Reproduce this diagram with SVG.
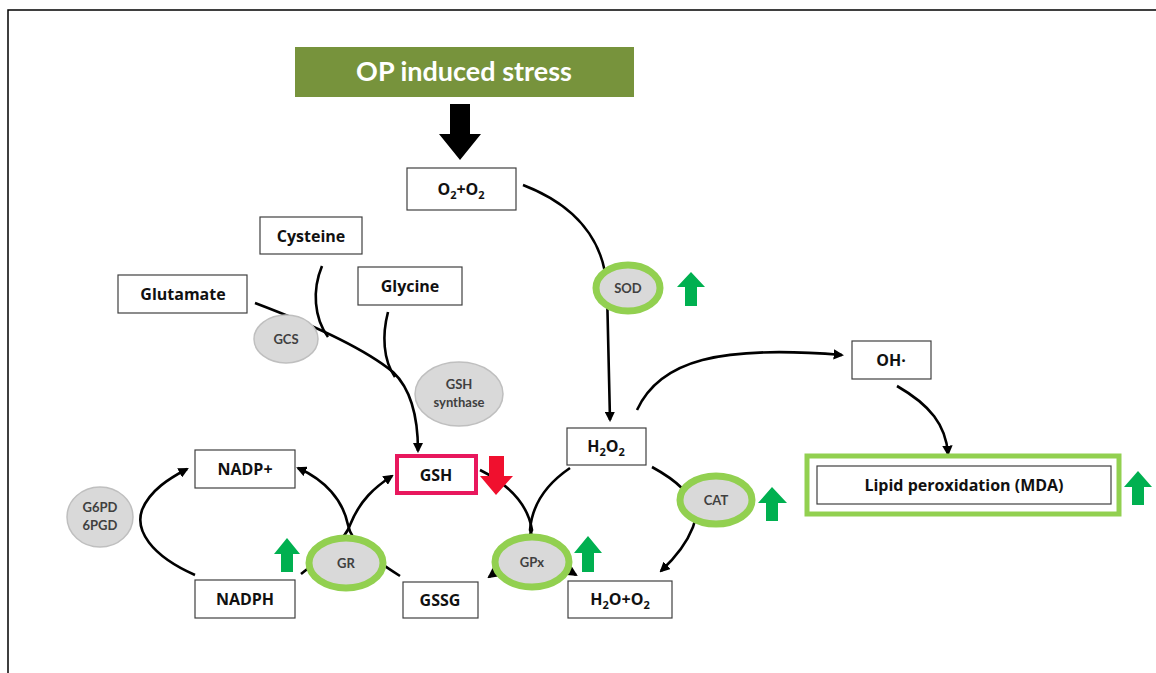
<svg xmlns="http://www.w3.org/2000/svg" width="1156" height="673" viewBox="0 0 1156 673">
<style>
.box{fill:#fff;stroke:#404040;stroke-width:1.2}
.lbl{font-family:"Open Sans",Lato,"Liberation Sans",sans-serif;font-weight:bold;font-size:16px;fill:#111;text-anchor:middle}
.sm{font-family:Lato,"Open Sans","Liberation Sans",sans-serif;font-weight:bold;font-size:13px;fill:#404040;text-anchor:middle}
.enz{fill:#D9D9D9;stroke:#BFBFBF;stroke-width:1.5}
.enzg{fill:#D9D9D9;stroke:#92D050;stroke-width:7}
.ln{fill:none;stroke:#000;stroke-width:2.6}
.up{fill:#00B050}
</style>
<defs>
<marker id="ah" viewBox="0 0 10 10" refX="8" refY="5" markerWidth="4" markerHeight="4" orient="auto" markerUnits="strokeWidth">
<path d="M0,0 L10,5 L0,10 Z" fill="#000"/>
</marker>
</defs>
<rect x="0" y="0" width="1156" height="673" fill="#fff"/>
<path d="M8,673 L8,10 L1156,10" fill="none" stroke="#000" stroke-width="1.5"/>

<g id="stress">
<rect x="295" y="47" width="339" height="50" fill="#77933C"/>
<text x="464" y="81" font-family="Lato,'Open Sans','Liberation Sans',sans-serif" font-weight="bold" font-size="27" fill="#fff" text-anchor="middle">OP induced stress</text>
</g>
<g id="bigarrow">
<path d="M450,104 L470,104 L470,134 L481,134 L460,160 L439,134 L450,134 Z" fill="#000"/>
</g>

<g id="connectors">
<path class="ln" d="M255,303 C300,320 360,345 393,372 C412,390 418,420 418,451" marker-end="url(#ah)"/>
<path class="ln" d="M322,266 C312,290 314,318 328,337"/>
<path class="ln" d="M388,312 C382,335 383,360 395,377"/>
<path class="ln" d="M523,185 C575,205 605,240 607,290 L610,420" marker-end="url(#ah)"/>
<path class="ln" d="M637,410 C660,360 720,345 842,355" marker-end="url(#ah)"/>
<path class="ln" d="M897,386 C930,405 946,425 948,454" marker-end="url(#ah)"/>
<path class="ln" d="M652,467 C685,485 702,505 693,527 C686,545 675,558 661,571" marker-end="url(#ah)"/>
<path class="ln" d="M570,468 C545,485 532,505 530,530 C535,550 555,562 576,575" marker-end="url(#ah)"/>
<path class="ln" d="M480,470 C510,485 528,505 532,530 C525,550 508,563 489,577" marker-end="url(#ah)"/>
<path class="ln" d="M195,575 C150,555 135,530 142,510 C150,490 170,478 187,469" marker-end="url(#ah)"/>
<path class="ln" d="M301,574 C325,555 345,540 350,525 C360,500 375,487 392,476" marker-end="url(#ah)"/>
<path class="ln" d="M400,576 C375,560 352,545 348,525 C343,500 325,480 298,468" marker-end="url(#ah)"/>
</g>

<g id="o2"><rect class="box" x="407" y="168" width="109" height="42"/><text class="lbl" x="461" y="195">O<tspan font-size="11" dy="4">2</tspan><tspan dy="-4">+O</tspan><tspan font-size="11" dy="4">2</tspan></text></g>
<g id="cysteine"><rect class="box" x="260" y="217" width="102" height="37"/><text class="lbl" x="311" y="242">Cysteine</text></g>
<g id="glutamate"><rect class="box" x="118" y="275" width="129" height="38"/><text class="lbl" x="183" y="300">Glutamate</text></g>
<g id="glycine"><rect class="box" x="358" y="267" width="104" height="38"/><text class="lbl" x="410" y="292">Glycine</text></g>
<g id="gcs"><ellipse class="enz" cx="286" cy="339" rx="32" ry="24"/><text class="sm" x="286" y="344">GCS</text></g>
<g id="gshsynthase"><ellipse class="enz" cx="459" cy="394" rx="44" ry="32"/><text class="sm" x="459" y="389">GSH</text><text class="sm" x="459" y="407">synthase</text></g>
<g id="sod"><ellipse class="enzg" cx="628" cy="288" rx="32" ry="23"/><text class="sm" x="628" y="293">SOD</text><path class="up" d="M691,272 L705,287 L697,287 L697,306 L685,306 L685,287 L677,287 Z"/></g>
<g id="h2o2"><rect class="box" x="567" y="428" width="79" height="37"/><text class="lbl" x="606" y="452">H<tspan font-size="11" dy="4">2</tspan><tspan dy="-4">O</tspan><tspan font-size="11" dy="4">2</tspan></text></g>
<g id="oh"><rect class="box" x="852" y="341" width="79" height="38"/><text class="lbl" x="891" y="366">OH·</text></g>
<g id="lipid"><rect x="807" y="456" width="312" height="58" fill="#fff" stroke="#92D050" stroke-width="5"/><rect class="box" x="817" y="466" width="294" height="38"/><text class="lbl" x="964" y="491">Lipid peroxidation (MDA)</text><path class="up" d="M1138,471 L1152,487 L1144,487 L1144,505 L1132,505 L1132,487 L1124,487 Z"/></g>
<g id="cat"><ellipse class="enzg" cx="716" cy="500" rx="36" ry="24"/><text class="sm" x="716" y="505">CAT</text><path class="up" d="M772,487 L787,503 L778,503 L778,521 L766,521 L766,503 L758,503 Z"/></g>
<g id="h2oo2"><rect class="box" x="568" y="581" width="104" height="37"/><text class="lbl" x="620" y="605">H<tspan font-size="11" dy="4">2</tspan><tspan dy="-4">O+O</tspan><tspan font-size="11" dy="4">2</tspan></text></g>
<g id="gsh"><rect x="397" y="456" width="79" height="37" fill="#fff" stroke="#E8175D" stroke-width="4"/><text class="lbl" x="436" y="481">GSH</text><path d="M496,495 L513,476 L504,476 L504,456 L489,456 L489,476 L480,476 Z" fill="#F0102E"/></g>
<g id="gpx"><ellipse class="enzg" cx="532" cy="562" rx="37" ry="25"/><text class="sm" x="532" y="567">GPx</text><path class="up" d="M588,536 L602,553 L594,553 L594,572 L582,572 L582,553 L574,553 Z"/></g>
<g id="gssg"><rect class="box" x="403" y="582" width="75" height="36"/><text class="lbl" x="440" y="606">GSSG</text></g>
<g id="nadph"><rect class="box" x="195" y="580" width="100" height="38"/><text class="lbl" x="245" y="605">NADPH</text></g>
<g id="nadp"><rect class="box" x="195" y="450" width="100" height="38"/><text class="lbl" x="245" y="475">NADP+</text></g>
<g id="g6pd"><ellipse class="enz" cx="100" cy="517" rx="33" ry="30"/><text class="sm" x="100" y="512">G6PD</text><text class="sm" x="100" y="530">6PGD</text></g>
<g id="gr"><ellipse class="enzg" cx="346" cy="563" rx="37" ry="25"/><text class="sm" x="346" y="568">GR</text><path class="up" d="M287,538 L300,554 L293,554 L293,572 L281,572 L281,554 L274,554 Z"/></g>
</svg>
